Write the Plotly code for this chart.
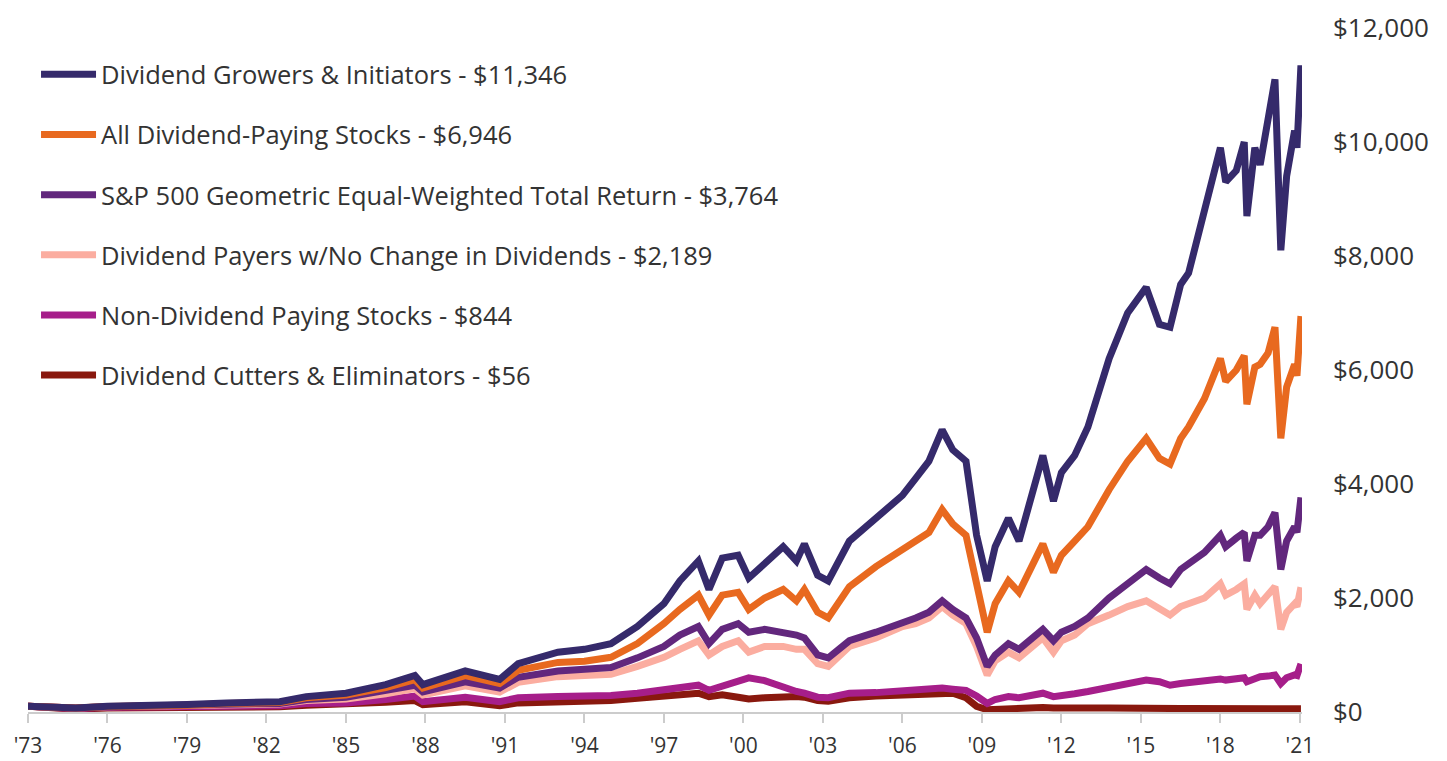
import plotly.graph_objects as go

# Decimal-year dates (shared by every series)
dates = [1973.0, 1974.0, 1974.8, 1976.0, 1977.5, 1979.0, 1980.5, 1982.5, 1983.5, 1985.0,
         1986.5, 1987.6, 1987.9, 1989.5, 1990.8, 1991.5, 1993.0, 1994.0, 1995.0, 1996.0,
         1997.0, 1997.6, 1998.3, 1998.7, 1999.2, 1999.8, 2000.2, 2000.8, 2001.5, 2002.0,
         2002.3, 2002.8, 2003.2, 2004.0, 2005.0, 2006.0, 2006.5, 2007.0, 2007.5, 2007.9,
         2008.4, 2008.8, 2009.2, 2009.5, 2010.0, 2010.4, 2011.3, 2011.7, 2012.0, 2012.5,
         2013.0, 2013.8, 2014.5, 2015.2, 2015.7, 2016.1, 2016.5, 2016.8, 2017.4, 2018.0,
         2018.2, 2018.6, 2018.9, 2019.0, 2019.3, 2019.5, 2019.8, 2020.06, 2020.28, 2020.5,
         2020.8, 2020.89, 2021.04]

growers = [100, 85, 70, 100, 105, 130, 160, 180, 270, 330,
           480, 640, 480, 720, 570, 850, 1050, 1100, 1200, 1500,
           1900, 2300, 2650, 2150, 2700, 2750, 2350, 2600, 2900, 2650,
           2950, 2400, 2300, 3000, 3400, 3800, 4100, 4400, 4950, 4600,
           4400, 3100, 2300, 2900, 3400, 3000, 4500, 3700, 4200, 4500,
           5000, 6200, 7000, 7450, 6800, 6750, 7500, 7700, 8800, 9900,
           9300, 9500, 10000, 8700, 9900, 9600, 10400, 11100, 8100, 9400,
           10200, 9900, 11346]

all_payers = [100, 85, 70, 95, 100, 120, 150, 165, 250, 300,
              430, 570, 420, 640, 500, 730, 870, 890, 960, 1200,
              1550, 1800, 2050, 1700, 2050, 2100, 1800, 2000, 2150, 1950,
              2150, 1750, 1650, 2200, 2550, 2850, 3000, 3150, 3550, 3300,
              3100, 2300, 1400, 1900, 2300, 2100, 2950, 2450, 2750, 3000,
              3250, 3900, 4400, 4800, 4450, 4350, 4800, 5000, 5500, 6200,
              5800, 6000, 6250, 5400, 6050, 6100, 6300, 6750, 4800, 5700,
              6100, 5900, 6946]

sp500_ew = [100, 85, 70, 90, 95, 110, 135, 150, 220, 260,
            370, 470, 350, 530, 420, 610, 720, 740, 780, 950,
            1150, 1350, 1500, 1200, 1450, 1550, 1400, 1450, 1400, 1350,
            1300, 1000, 950, 1250, 1400, 1550, 1650, 1750, 1950, 1800,
            1650, 1300, 800, 1000, 1200, 1100, 1450, 1250, 1400, 1500,
            1650, 2000, 2250, 2500, 2350, 2250, 2500, 2600, 2800, 3100,
            2900, 3050, 3150, 2650, 3100, 3100, 3250, 3500, 2500, 3000,
            3250, 3150, 3764]

no_change = [100, 85, 70, 90, 95, 105, 125, 140, 200, 230,
             320, 410, 300, 460, 350, 520, 620, 630, 660, 800,
             960, 1100, 1250, 1000, 1150, 1250, 1050, 1150, 1150, 1100,
             1100, 850, 800, 1150, 1300, 1500, 1550, 1650, 1850, 1700,
             1550, 1150, 650, 900, 1050, 950, 1300, 1050, 1250, 1350,
             1550, 1700, 1850, 1950, 1800, 1700, 1850, 1900, 2000, 2250,
             2050, 2150, 2250, 1800, 2050, 1900, 2050, 2200, 1450, 1750,
             1900, 1850, 2189]

non_payers = [100, 80, 60, 85, 85, 100, 110, 110, 150, 160,
              220, 280, 180, 260, 180, 250, 270, 270, 290, 330,
              400, 450, 470, 380, 450, 550, 600, 550, 430, 360,
              330, 260, 250, 330, 340, 380, 390, 400, 420, 400,
              380, 280, 150, 220, 270, 250, 330, 270, 300, 320,
              360, 430, 500, 560, 530, 470, 500, 520, 550, 580,
              560, 590, 600, 530, 600, 620, 630, 650, 500, 600,
              650, 640, 844]

cutters = [100, 75, 50, 70, 70, 80, 85, 90, 120, 130,
           170, 200, 130, 180, 110, 160, 180, 180, 200, 240,
           290, 320, 330, 270, 300, 260, 230, 250, 270, 270,
           260, 200, 190, 250, 280, 300, 310, 320, 340, 330,
           250, 100, 40, 50, 60, 60, 80, 70, 65, 65,
           70, 70, 75, 75, 70, 60, 60, 60, 60, 60,
           58, 58, 57, 52, 55, 55, 52, 50, 40, 42,
           45, 45, 56]

names = ["Dividend Growers & Initiators - $11,346",
         "All Dividend-Paying Stocks - $6,946",
         "S&P 500 Geometric Equal-Weighted Total Return - $3,764",
         "Dividend Payers w/No Change in Dividends - $2,189",
         "Non-Dividend Paying Stocks - $844",
         "Dividend Cutters & Eliminators - $56"]
series = [growers, all_payers, sp500_ew, no_change, non_payers, cutters]
colors = ["#352a6b", "#e8691f", "#62277d", "#fbada0", "#a61e8a", "#89180e"]

tick_years = list(range(1973, 2022, 3))
tick_text = ["'" + str(y)[2:] for y in tick_years]
y_ticks = [0, 2000, 4000, 6000, 8000, 10000, 12000]
y_text = ["$" + format(v, ",") for v in y_ticks]

fig = go.Figure()
# draw bottom series first so the top series sit on top
for i in reversed(range(len(series))):
    fig.add_trace(go.Scatter(
        x=dates, y=series[i], name=names[i], mode="lines",
        line=dict(color=colors[i], width=7),
        legendgroup="g%d" % i, legendrank=i + 1,
    ))

fig.update_layout(
    width=1439, height=753,
    margin=dict(l=20, r=145, t=20, b=49),
    paper_bgcolor="white", plot_bgcolor="white",
    font=dict(family="Open Sans", color="#333333"),
    showlegend=True,
    legend=dict(x=0.0063, y=0.966, xanchor="left", yanchor="top",
                traceorder="grouped", tracegroupgap=24,
                font=dict(size=25.5, color="#333333"),
                bgcolor="rgba(0,0,0,0)", itemwidth=55),
    xaxis=dict(range=[1973, 2021.08], tickmode="array", tickvals=tick_years,
               ticktext=tick_text, showgrid=False, zeroline=False,
               showline=True, linecolor="#cccccc", linewidth=2,
               ticks="outside", ticklen=9, tickcolor="#cccccc", tickwidth=2,
               ticklabelstandoff=5, automargin=False,
               ticklabeloverflow="allow",
               tickfont=dict(size=21, color="#333333")),
    yaxis=dict(range=[0, 12000.5], side="right", tickmode="array",
               tickvals=y_ticks, ticktext=y_text, showgrid=False,
               zeroline=False, showline=False, ticks="",
               ticklabelstandoff=30, automargin=False,
               ticklabeloverflow="allow",
               tickfont=dict(size=26, color="#333333")),
)

fig.write_html("out.html")
